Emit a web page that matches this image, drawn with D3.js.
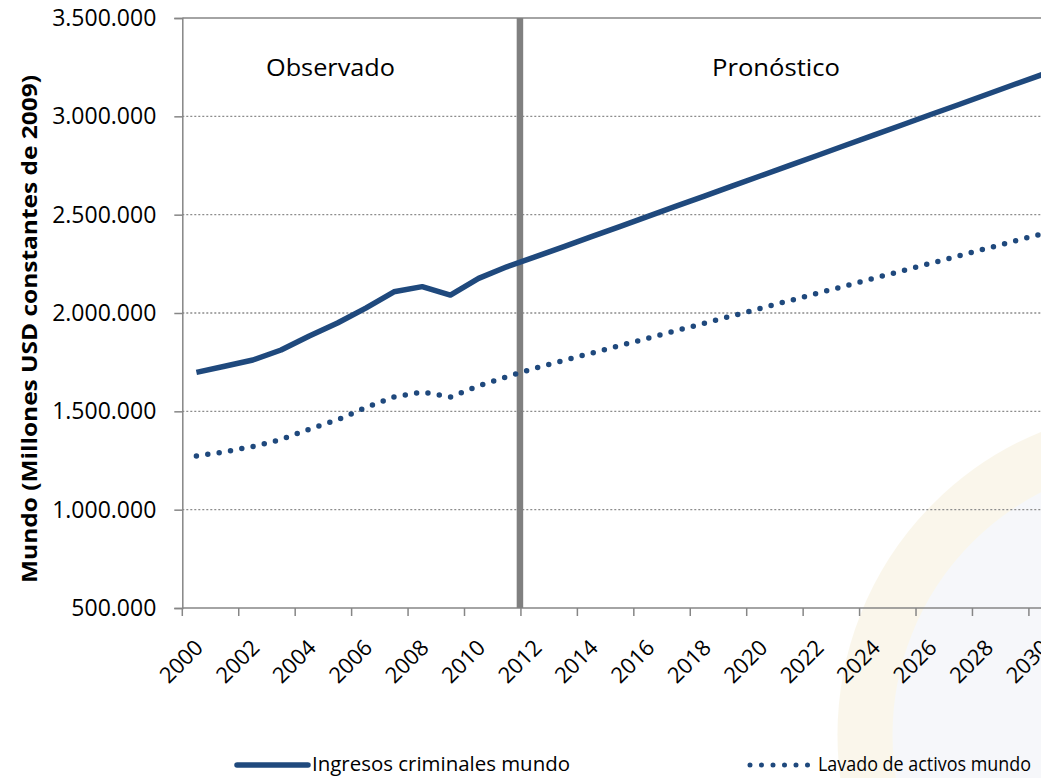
<!DOCTYPE html>
<html>
<head>
<meta charset="utf-8">
<script src="https://cdn.jsdelivr.net/npm/d3@7"></script>
<style>
  body { margin: 0; background: #fff; }
  svg { display: block; font-family: "Open Sans", sans-serif; }
</style>
</head>
<body>
<svg id="chart" width="1041" height="778"></svg>
<script>
// años (categorías)
const years = d3.range(2000, 2031);

// Ingresos criminales mundo (millones USD constantes de 2009)
const ingresos = [
  1698000, 1729000, 1761000, 1812000, 1883000, 1949000, 2025000, 2108000,
  2134000, 2091000, 2176000, 2235000, 2285000, 2336000, 2388000, 2439000,
  2491000, 2543000, 2594000, 2646000, 2698000, 2749000, 2801000, 2853000,
  2904000, 2956000, 3008000, 3059000, 3111000, 3163000, 3214000
];

// Lavado de activos mundo
const lavado = [
  1273000, 1294000, 1321000, 1357000, 1409000, 1457000, 1519000, 1573000,
  1598000, 1573000, 1630000, 1676000, 1720000, 1758000, 1796000, 1834000,
  1872000, 1910000, 1948000, 1986000, 2024000, 2062000, 2100000, 2138000,
  2176000, 2214000, 2252000, 2290000, 2328000, 2366000, 2404000
];

const yTicks = [500000, 1000000, 1500000, 2000000, 2500000, 3000000, 3500000];
const xLabelYears = years.filter(d => (d - 2000) % 2 === 0);
const splitYear = 2012;   // inicio del pronóstico

const blue = "#1F497D";
const grey = "#868686";

const svg = d3.select("#chart");

// sello de fondo (marca de agua, muy tenue)
const wm = svg.append("g").attr("opacity", 0.28);
wm.append("circle")
  .attr("cx", 1165).attr("cy", 735).attr("r", 300)
  .attr("fill", "#dfe6ef").attr("stroke", "#efe2b8").attr("stroke-width", 55);

const x = d3.scaleBand()
  .domain(years)
  .range([182.3, 182.3 + 31 * 28.22])
  .paddingInner(0).paddingOuter(0);

const y = d3.scaleLinear()
  .domain([500000, 3500000])
  .range([608, 18]);

const fmt = d3.formatLocale({decimal: ",", thousands: ".", grouping: [3], currency: ["", ""]}).format(",");

// líneas de cuadrícula
svg.append("g")
  .selectAll("line")
  .data(yTicks.filter(d => d > 500000 && d < 3500000))
  .join("line")
    .attr("x1", x.range()[0]).attr("x2", 1041)
    .attr("y1", d => y(d)).attr("y2", d => y(d))
    .attr("stroke", "#8c8c8c")
    .attr("stroke-width", 1.3)
    .attr("stroke-dasharray", "2 2");

// línea superior
svg.append("line")
  .attr("x1", x.range()[0]).attr("x2", 1041)
  .attr("y1", y(3500000)).attr("y2", y(3500000))
  .attr("stroke", grey).attr("stroke-width", 1.5);

// eje y
const yAxis = d3.axisLeft(y).tickValues(yTicks).tickFormat(fmt).tickSize(8).tickPadding(18);
const gy = svg.append("g")
  .attr("transform", `translate(${x.range()[0]},0)`)
  .call(yAxis);
gy.select(".domain").attr("stroke", grey).attr("stroke-width", 1.5);
gy.selectAll(".tick line").attr("stroke", grey).attr("stroke-width", 1.5);
gy.selectAll(".tick text")
  .attr("font-size", 23)
  .attr("fill", "#000")
  .attr("font-family", "Open Sans");

// eje x
const gx = svg.append("g")
  .attr("transform", `translate(0,${y(500000)})`);
gx.append("line")
  .attr("x1", x.range()[0]).attr("x2", 1041)
  .attr("stroke", grey).attr("stroke-width", 1.5);
gx.selectAll(".xt")
  .data(xLabelYears)
  .join("line")
    .attr("class", "xt")
    .attr("x1", d => x(d)).attr("x2", d => x(d))
    .attr("y1", 0).attr("y2", 8)
    .attr("stroke", grey).attr("stroke-width", 1.5);
gx.selectAll(".xl")
  .data(xLabelYears)
  .join("text")
    .attr("class", "xl")
    .attr("text-anchor", "end")
    .attr("font-size", 22)
    .attr("transform", d => `translate(${x(d) + x.bandwidth() / 2 + 8},${41}) rotate(-45)`)
    .text(d => d);

// separación observado / pronóstico
svg.append("line")
  .attr("x1", x(splitYear) - 1).attr("x2", x(splitYear) - 1)
  .attr("y1", y(3500000)).attr("y2", y(500000))
  .attr("stroke", "#808080").attr("stroke-width", 6.5);

svg.append("text")
  .attr("x", 266).attr("y", 76)
  .attr("font-size", 24)
  .attr("textLength", 129).attr("lengthAdjust", "spacingAndGlyphs")
  .text("Observado");
svg.append("text")
  .attr("x", 712).attr("y", 76)
  .attr("font-size", 24)
  .attr("textLength", 128).attr("lengthAdjust", "spacingAndGlyphs")
  .text("Pronóstico");

// series
const line = d3.line()
  .x((d, i) => x(years[i]) + x.bandwidth() / 2)
  .y(d => y(d));

svg.append("path")
  .datum(ingresos)
  .attr("d", line)
  .attr("fill", "none")
  .attr("stroke", blue)
  .attr("stroke-width", 5.5)
  .attr("stroke-linejoin", "round");

svg.append("path")
  .datum(lavado)
  .attr("d", line)
  .attr("fill", "none")
  .attr("stroke", blue)
  .attr("stroke-width", 5.5)
  .attr("stroke-linecap", "round")
  .attr("stroke-dasharray", "0 11.5");

// título eje y
svg.append("text")
  .attr("transform", "translate(37,329) rotate(-90)")
  .attr("text-anchor", "middle")
  .attr("font-size", 21)
  .attr("font-weight", "bold")
  .attr("textLength", 508).attr("lengthAdjust", "spacingAndGlyphs")
  .text("Mundo (Millones USD constantes de 2009)");

// leyenda
const legend = svg.append("g");
legend.append("line")
  .attr("x1", 237).attr("x2", 308).attr("y1", 765).attr("y2", 765)
  .attr("stroke", blue).attr("stroke-width", 5.5).attr("stroke-linecap", "round");
legend.append("text")
  .attr("x", 312).attr("y", 771).attr("font-size", 19.5)
  .attr("textLength", 258).attr("lengthAdjust", "spacingAndGlyphs")
  .text("Ingresos criminales mundo");
legend.append("line")
  .attr("x1", 750).attr("x2", 810).attr("y1", 765).attr("y2", 765)
  .attr("stroke", blue).attr("stroke-width", 5).attr("stroke-linecap", "round")
  .attr("stroke-dasharray", "0 11.5");
legend.append("text")
  .attr("x", 818).attr("y", 771).attr("font-size", 19.5)
  .attr("textLength", 213).attr("lengthAdjust", "spacingAndGlyphs")
  .text("Lavado de activos mundo");
</script>
</body>
</html>
